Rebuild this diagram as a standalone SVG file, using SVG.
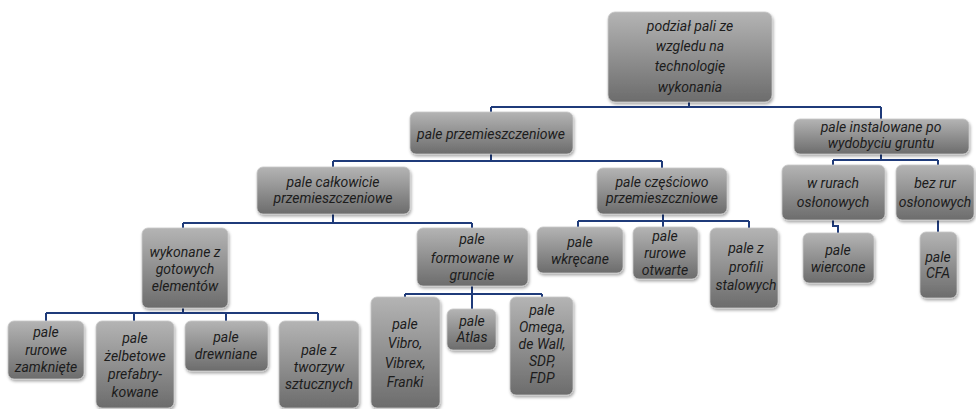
<svg xmlns="http://www.w3.org/2000/svg" width="976" height="409" viewBox="0 0 976 409">
<defs>
<linearGradient id="g" x1="0" y1="0" x2="0" y2="1">
<stop offset="0" stop-color="#b4b4b4"/>
<stop offset="1" stop-color="#6c6c6c"/>
</linearGradient>
<filter id="sh" x="-20%" y="-20%" width="140%" height="140%">
<feDropShadow dx="1" dy="2" stdDeviation="1.5" flood-color="#000" flood-opacity="0.35"/>
</filter>
</defs>
<style>
rect.n{fill:url(#g);stroke:#c8c8c8;stroke-width:0.8;filter:url(#sh)}
text{font-family:Roboto,"Liberation Sans","DejaVu Sans",sans-serif;font-style:italic;font-size:14px;fill:#1c1c1c;text-anchor:middle}
.c path{fill:none;stroke:#1f3b7a;stroke-width:2}
</style>
<rect width="976" height="409" fill="#fff"/>
<g class="c" id="connectors">
<path d="M689,102V107M491,107H881M491,107V112M881,107V121"/>
<path d="M491,154V161M333,161H662M333,161V167M662,161V168"/>
<path d="M881,154V160M833,160H938M833,160V165M938,160V165"/>
<path d="M333,214V223M183,223H472M183,223V228M472,223V228"/>
<path d="M663,214V227M578,221H749M578,221V227M749,221V228"/>
<path d="M183,308V313M46,313H318M46,313V321M134,313V321M226,313V321M318,313V321"/>
<path d="M472,286V309M405,294H542M405,294V297M542,294V297"/>
<path d="M833,220V226H838V233"/>
<path d="M938,220V232"/>
</g>
<g id="root"><rect class="n" x="608" y="12" width="164" height="90" rx="7"/>
<text font-size="14.5"><tspan x="690" y="31">podział pali ze</tspan><tspan x="690" y="51">wzgledu na</tspan><tspan x="690" y="71">technologię</tspan><tspan x="690" y="92">wykonania</tspan></text></g>
<g id="przem"><rect class="n" x="410" y="112" width="163" height="42" rx="6"/>
<text><tspan x="491" y="139">pale przemieszczeniowe</tspan></text></g>
<g id="instal"><rect class="n" x="794" y="119" width="175" height="35" rx="6"/>
<text><tspan x="881" y="132">pale instalowane po</tspan><tspan x="881" y="148">wydobyciu gruntu</tspan></text></g>
<g id="calk"><rect class="n" x="257" y="167" width="153" height="47" rx="6"/>
<text><tspan x="333" y="187">pale całkowicie</tspan><tspan x="333" y="203">przemieszczeniowe</tspan></text></g>
<g id="czesc"><rect class="n" x="597" y="168" width="130" height="46" rx="6"/>
<text><tspan x="662" y="187">pale częściowo</tspan><tspan x="662" y="203">przemieszczniowe</tspan></text></g>
<g id="wrurach"><rect class="n" x="782" y="165" width="103" height="55" rx="6"/>
<text><tspan x="833" y="188">w rurach</tspan><tspan x="833" y="207">osłonowych</tspan></text></g>
<g id="bezrur"><rect class="n" x="896" y="165" width="78" height="55" rx="6"/>
<text><tspan x="935" y="188">bez rur</tspan><tspan x="935" y="207">osłonowych</tspan></text></g>
<g id="wiercone"><rect class="n" x="803" y="233" width="71" height="50" rx="6"/>
<text><tspan x="838" y="255">pale</tspan><tspan x="838" y="272">wiercone</tspan></text></g>
<g id="cfa"><rect class="n" x="920" y="232" width="37" height="66" rx="6"/>
<text><tspan x="938" y="262">pale</tspan><tspan x="938" y="278">CFA</tspan></text></g>
<g id="wykonane"><rect class="n" x="142" y="228" width="86" height="80" rx="6"/>
<text><tspan x="185" y="257">wykonane z</tspan><tspan x="185" y="274">gotowych</tspan><tspan x="185" y="291">elementów</tspan></text></g>
<g id="formowane"><rect class="n" x="417" y="228" width="111" height="58" rx="6"/>
<text><tspan x="472" y="244">pale</tspan><tspan x="472" y="263">formowane w</tspan><tspan x="472" y="280">gruncie</tspan></text></g>
<g id="wkrecane"><rect class="n" x="537" y="227" width="86" height="46" rx="6"/>
<text><tspan x="580" y="247">pale</tspan><tspan x="580" y="264">wkręcane</tspan></text></g>
<g id="otwarte"><rect class="n" x="633" y="227" width="65" height="52" rx="6"/>
<text><tspan x="665" y="241">pale</tspan><tspan x="665" y="258">rurowe</tspan><tspan x="665" y="275">otwarte</tspan></text></g>
<g id="profili"><rect class="n" x="710" y="228" width="68" height="80" rx="6"/>
<text><tspan x="746" y="253">pale z</tspan><tspan x="746" y="272">profili</tspan><tspan x="746" y="290">stalowych</tspan></text></g>
<g id="zamkniete"><rect class="n" x="8" y="321" width="76" height="58" rx="6"/>
<text><tspan x="46" y="337">pale</tspan><tspan x="46" y="355">rurowe</tspan><tspan x="46" y="372">zamknięte</tspan></text></g>
<g id="zelbetowe"><rect class="n" x="96" y="321" width="78" height="87" rx="6"/>
<text><tspan x="135" y="343">pale</tspan><tspan x="135" y="361">żelbetowe</tspan><tspan x="135" y="379">prefabry-</tspan><tspan x="135" y="397">kowane</tspan></text></g>
<g id="drewniane"><rect class="n" x="185" y="321" width="83" height="50" rx="6"/>
<text><tspan x="226" y="342">pale</tspan><tspan x="226" y="359">drewniane</tspan></text></g>
<g id="tworzyw"><rect class="n" x="279" y="321" width="80" height="87" rx="6"/>
<text><tspan x="319" y="355">pale z</tspan><tspan x="319" y="372">tworzyw</tspan><tspan x="319" y="389">sztucznych</tspan></text></g>
<g id="vibro"><rect class="n" x="371" y="297" width="69" height="111" rx="6"/>
<text font-size="17"><tspan x="405" y="329">pale</tspan><tspan x="405" y="348">Vibro,</tspan><tspan x="405" y="368">Vibrex,</tspan><tspan x="405" y="387">Franki</tspan></text></g>
<g id="atlas"><rect class="n" x="447" y="309" width="49" height="41" rx="6"/>
<text font-size="13"><tspan x="472" y="326">pale</tspan><tspan x="472" y="342">Atlas</tspan></text></g>
<g id="omega"><rect class="n" x="510" y="297" width="63" height="98" rx="6"/>
<text><tspan x="542" y="315">pale</tspan><tspan x="542" y="332">Omega,</tspan><tspan x="542" y="349">de Wall,</tspan><tspan x="542" y="366">SDP,</tspan><tspan x="542" y="383">FDP</tspan></text></g>
</svg>
